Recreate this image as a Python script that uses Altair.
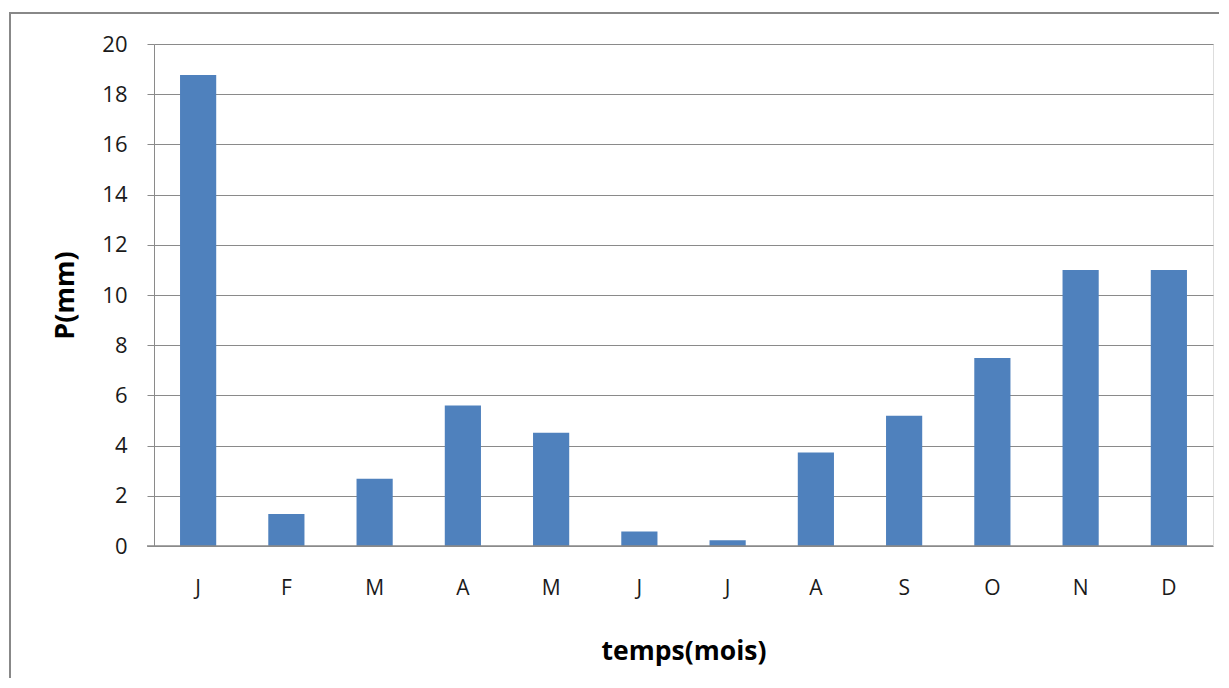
import altair as alt
import pandas as pd

months = ["J", "F", "M", "A", "M", "J", "J", "A", "S", "O", "N", "D"]
precip = [18.76, 1.27, 2.68, 5.6, 4.51, 0.58, 0.23, 3.73, 5.19, 7.49, 11.0, 11.0]
y_ticks = [0, 2, 4, 6, 8, 10, 12, 14, 16, 18, 20]

df = pd.DataFrame({"idx": list(range(len(months))), "mois": months, "P": precip})

label_expr = "[" + ",".join("'%s'" % m for m in months) + "][datum.value]"

FONT = "Open Sans"
GRID = "#8a8a8a"

bars = alt.Chart(df).mark_bar(color="#4F81BD").encode(
    x=alt.X(
        "idx:O",
        scale=alt.Scale(paddingInner=0.59, paddingOuter=0.295),
        axis=alt.Axis(
            title="temps(mois)",
            labelExpr=label_expr,
            labelAngle=0,
            ticks=False,
            tickSize=0,
            domain=False,
            grid=False,
            labelPadding=31,
            labelFontSize=21,
            labelFont=FONT,
            labelColor="#1a1a1a",
            titleFont=FONT,
            titleFontSize=26.5,
            titleFontWeight="bold",
            titleColor="#000000",
            titlePadding=40,
        ),
    ),
    y=alt.Y(
        "P:Q",
        scale=alt.Scale(domain=[0, 20], nice=False),
        axis=alt.Axis(
            title="P(mm)",
            values=y_ticks,
            tickSize=7,
            tickColor=GRID,
            domainColor=GRID,
            gridColor=GRID,
            labelPadding=20,
            labelFontSize=22,
            labelFont=FONT,
            labelColor="#1a1a1a",
            titleFont=FONT,
            titleFontSize=27,
            titleFontWeight="bold",
            titleColor="#000000",
            titlePadding=22,
        ),
    ),
)

baseline = alt.Chart(alt.Data(values=[{"v": 0}])).mark_rule(color=GRID, strokeWidth=1.5).encode(
    y="v:Q", x=alt.value(-7), x2=alt.value(1059)
)

frame = alt.Chart(alt.Data(values=[{"a": 1}])).mark_rect(
    fill="transparent", stroke="#888888", strokeWidth=2
).encode(
    x=alt.value(-144), y=alt.value(-31), x2=alt.value(1200), y2=alt.value(800)
)

chart = alt.layer(frame, bars, baseline).properties(
    width=1059,
    height=502,
    autosize=alt.AutoSizeParams(type="none"),
    padding={"left": 146, "top": 36, "right": 6, "bottom": 132},
).configure_view(stroke=None).configure(background="white")

chart.save("out.html", embed_options={"renderer": "svg", "actions": False})
